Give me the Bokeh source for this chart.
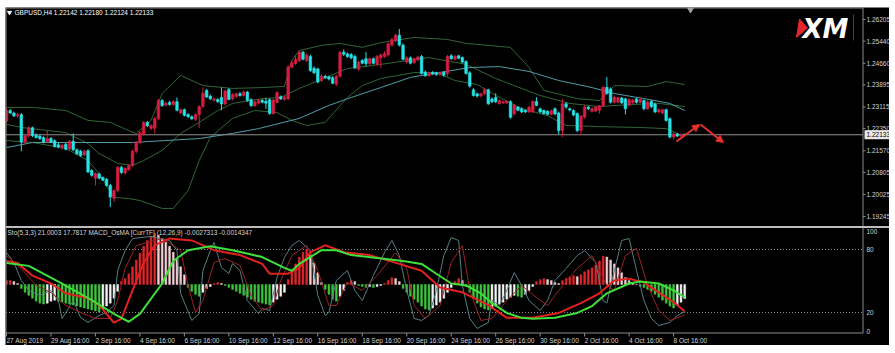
import numpy as np
from bokeh.plotting import figure
from bokeh.models import (Range1d, Label, Arrow, NormalHead, ColumnDataSource)
from bokeh.embed import file_html
from bokeh.resources import INLINE
from bokeh.core.properties import value

# ---------------- data (GBPUSD H4) ----------------
opens = [1.2262,1.2299,1.2290,1.2280,1.2284,1.2187,1.2210,1.2238,1.2212,1.2208,1.2203,1.2189,1.2200,1.2192,1.2178,1.2167,1.2180,1.2163,1.2190,1.2160,
 1.2155,1.2142,1.2157,1.2087,1.2060,1.2075,1.2062,1.2056,1.2034,1.1988,1.2016,1.2098,1.2078,1.2090,1.2105,1.2155,1.2185,1.2215,1.2257,1.2236,
 1.2236,1.2271,1.2334,1.2318,1.2328,1.2320,1.2330,1.2290,1.2302,1.2285,1.2277,1.2268,1.2285,1.2313,1.2370,1.2350,1.2335,1.2338,1.2345,1.2322,
 1.2373,1.2340,1.2348,1.2358,1.2352,1.2364,1.2337,1.2316,1.2325,1.2335,1.2332,1.2337,1.2288,1.2328,1.2348,1.2338,1.2340,1.2452,1.2465,1.2475,
 1.2505,1.2475,1.2490,1.2448,1.2446,1.2405,1.2420,1.2418,1.2415,1.2392,1.2420,1.2505,1.2499,1.2497,1.2490,1.2445,1.2476,1.2482,1.2464,1.2482,
 1.2462,1.2485,1.2490,1.2495,1.2530,1.2545,1.2565,1.2530,1.2470,1.2485,1.2468,1.2478,1.2490,1.2435,1.2422,1.2434,1.2432,1.2426,1.2434,1.2430,
 1.2492,1.2480,1.2492,1.2486,1.2472,1.2432,1.2372,1.2358,1.2350,1.2358,1.2372,1.2340,1.2345,1.2323,1.2326,1.2326,1.2330,1.2287,1.2311,1.2305,
 1.2299,1.2294,1.2294,1.2331,1.2305,1.2299,1.2296,1.2285,1.2305,1.2290,1.2228,1.2323,1.2305,1.2299,1.2288,1.2228,1.2275,1.2311,1.2296,1.2297,
 1.2300,1.2316,1.2381,1.2375,1.2328,1.2328,1.2343,1.2340,1.2318,1.2326,1.2340,1.2328,1.2334,1.2305,1.2331,1.2322,1.2294,1.2290,1.2302,1.2270,
 1.2205,1.2216,1.2209,1.22142]
highs = [1.2306,1.2304,1.2295,1.2290,1.2290,1.2216,1.2243,1.2242,1.2218,1.2214,1.2208,1.2228,1.2205,1.2197,1.2185,1.2182,1.2184,1.2195,1.2218,1.2165,
 1.2160,1.2160,1.2162,1.2092,1.2080,1.2080,1.2066,1.2060,1.2040,1.2020,1.2102,1.2104,1.2098,1.2110,1.2160,1.2190,1.2225,1.2262,1.2262,1.2250,
 1.2275,1.2340,1.2340,1.2330,1.2333,1.2335,1.2345,1.2306,1.2306,1.2289,1.2281,1.2289,1.2318,1.2381,1.2375,1.2355,1.2345,1.2342,1.2380,1.2372,
 1.2378,1.2360,1.2362,1.2365,1.2370,1.2368,1.2342,1.2334,1.2340,1.2340,1.2344,1.2342,1.2340,1.2368,1.2352,1.2350,1.2460,1.2475,1.2492,1.2512,
 1.2510,1.2500,1.2496,1.2455,1.2450,1.2428,1.2425,1.2422,1.2420,1.2425,1.2510,1.2515,1.2504,1.2502,1.2496,1.2475,1.2480,1.2505,1.2486,1.2486,
 1.2495,1.2500,1.2508,1.2540,1.2556,1.2570,1.2587,1.2536,1.2490,1.2490,1.2485,1.2492,1.2495,1.2440,1.2436,1.2438,1.2436,1.2436,1.2438,1.2495,
 1.2498,1.2495,1.2496,1.2490,1.2476,1.2438,1.2378,1.2362,1.2362,1.2378,1.2376,1.2345,1.2360,1.2338,1.2334,1.2335,1.2335,1.2322,1.2315,1.2310,
 1.2303,1.2315,1.2335,1.2346,1.2309,1.2303,1.2300,1.2302,1.2310,1.2295,1.2340,1.2328,1.2310,1.2303,1.2292,1.2282,1.2318,1.2315,1.2310,1.2314,
 1.2318,1.2384,1.2417,1.2380,1.2352,1.2348,1.2347,1.2344,1.2342,1.2340,1.2344,1.2343,1.2338,1.2335,1.2336,1.2327,1.2307,1.2305,1.2306,1.2275,
 1.2222,1.2220,1.2218,1.22180]
lows = [1.2255,1.2287,1.2276,1.2273,1.2155,1.2178,1.2204,1.2205,1.2200,1.2195,1.2183,1.2185,1.2184,1.2168,1.2165,1.2160,1.2158,1.2158,1.2155,1.2142,
 1.2135,1.2138,1.2078,1.2065,1.2034,1.2056,1.2050,1.2030,1.1958,1.1975,1.2010,1.2075,1.2072,1.2085,1.2100,1.2148,1.2180,1.2210,1.2240,1.2230,
 1.2218,1.2265,1.2312,1.2314,1.2316,1.2316,1.2296,1.2286,1.2278,1.2273,1.2265,1.2262,1.2237,1.2308,1.2343,1.2336,1.2330,1.2326,1.2300,1.2318,
 1.2335,1.2335,1.2344,1.2348,1.2348,1.2330,1.2312,1.2312,1.2320,1.2324,1.2305,1.2284,1.2284,1.2324,1.2336,1.2335,1.2336,1.2448,1.2460,1.2470,
 1.2476,1.2470,1.2436,1.2428,1.2395,1.2400,1.2410,1.2405,1.2392,1.2385,1.2415,1.2492,1.2485,1.2480,1.2445,1.2440,1.2462,1.2455,1.2460,1.2462,
 1.2458,1.2450,1.2485,1.2490,1.2525,1.2540,1.2525,1.2476,1.2465,1.2462,1.2464,1.2474,1.2426,1.2418,1.2418,1.2424,1.2422,1.2422,1.2418,1.2420,
 1.2478,1.2476,1.2480,1.2466,1.2426,1.2380,1.2348,1.2345,1.2346,1.2354,1.2318,1.2325,1.2325,1.2320,1.2322,1.2322,1.2270,1.2282,1.2296,1.2290,
 1.2290,1.2290,1.2290,1.2314,1.2290,1.2285,1.2282,1.2282,1.2282,1.2215,1.2205,1.2305,1.2296,1.2279,1.2222,1.2211,1.2270,1.2300,1.2292,1.2293,
 1.2288,1.2312,1.2355,1.2324,1.2324,1.2324,1.2322,1.2285,1.2314,1.2322,1.2324,1.2324,1.2300,1.2300,1.2308,1.2290,1.2290,1.2286,1.2260,1.2200,
 1.2198,1.2205,1.2203,1.22124]
closes = [1.2299,1.2290,1.2280,1.2284,1.2187,1.2210,1.2238,1.2210,1.2204,1.2200,1.2188,1.2200,1.2188,1.2172,1.2170,1.2177,1.2162,1.2190,1.2160,1.2146,
 1.2140,1.2155,1.2082,1.2070,1.2077,1.2060,1.2053,1.2034,1.1993,1.2016,1.2098,1.2080,1.2095,1.2105,1.2155,1.2185,1.2220,1.2257,1.2245,1.2246,
 1.2271,1.2334,1.2316,1.2325,1.2320,1.2330,1.2300,1.2302,1.2282,1.2277,1.2270,1.2285,1.2313,1.2360,1.2347,1.2340,1.2340,1.2330,1.2322,1.2368,
 1.2338,1.2355,1.2358,1.2352,1.2364,1.2334,1.2316,1.2330,1.2335,1.2328,1.2325,1.2288,1.2336,1.2362,1.2340,1.2345,1.2452,1.2468,1.2480,1.2505,
 1.2480,1.2495,1.2440,1.2432,1.2400,1.2420,1.2415,1.2410,1.2395,1.2420,1.2505,1.2498,1.2490,1.2485,1.2450,1.2470,1.2466,1.2465,1.2482,1.2466,
 1.2490,1.2495,1.2500,1.2535,1.2550,1.2565,1.2530,1.2480,1.2485,1.2466,1.2482,1.2488,1.2430,1.2422,1.2432,1.2428,1.2426,1.2432,1.2424,1.2490,
 1.2482,1.2490,1.2484,1.2470,1.2430,1.2385,1.2352,1.2350,1.2358,1.2372,1.2323,1.2330,1.2330,1.2334,1.2330,1.2332,1.2275,1.2318,1.2300,1.2294,
 1.2294,1.2311,1.2331,1.2317,1.2294,1.2288,1.2286,1.2298,1.2287,1.2228,1.2323,1.2311,1.2301,1.2283,1.2228,1.2280,1.2311,1.2305,1.2305,1.2311,
 1.2316,1.2381,1.2359,1.2328,1.2346,1.2344,1.2326,1.2305,1.2338,1.2335,1.2328,1.2339,1.2305,1.2329,1.2312,1.2294,1.2302,1.2302,1.2264,1.2205,
 1.2216,1.2209,1.2214,1.22133]

# Bollinger bands (20,2) and slow MA read as vertices: bar index, price
bb_up_bar = [0,7,16,22,28,33,35,39,42,47,53,61,69,75,77,79,85,90,96,101,110,119,124,130,136,141,145,154,160,164,173,178,183]
bb_up_val = [1.2310,1.2310,1.2299,1.2264,1.2257,1.2228,1.2218,1.2264,1.2359,1.2423,1.2387,1.2377,1.2380,1.2384,1.2476,1.2511,1.2529,1.2536,1.2522,1.2539,1.2557,1.2550,1.2536,1.2529,1.2522,1.2451,1.2370,1.2341,1.2334,1.2387,1.2384,1.2401,1.2391]
bb_mid_bar = [0,4,16,22,25,30,34,37,42,47,52,57,61,69,74,79,92,101,114,124,132,144,152,160,168,176,183]
bb_mid_val = [1.2250,1.2239,1.2221,1.2182,1.2147,1.2112,1.2105,1.2122,1.2158,1.2218,1.2257,1.2299,1.2324,1.2341,1.2345,1.2377,1.2447,1.2462,1.2486,1.2462,1.2412,1.2352,1.2324,1.2313,1.2320,1.2324,1.2313]
bb_lo_bar = [0,7,16,22,25,29,33,36,42,45,49,52,55,61,67,73,77,81,86,92,96,101,110,116,121,127,132,139,146,151,160,171,178,183]
bb_lo_val = [1.2193,1.2186,1.2165,1.2122,1.2076,1.1992,1.1988,1.1981,1.1953,1.1953,1.2016,1.2122,1.2204,1.2271,1.2299,1.2292,1.2264,1.2246,1.2257,1.2345,1.2387,1.2412,1.2433,1.2433,1.2405,1.2391,1.2352,1.2306,1.2281,1.2246,1.2242,1.2239,1.2235,1.2207]
ma_bar = [0,7,34,52,61,68,79,87,93,101,109,120,125,133,141,149,158,164,172,179,183]
ma_val = [1.2168,1.2186,1.2186,1.2200,1.2218,1.2235,1.2271,1.2317,1.2345,1.2380,1.2416,1.2440,1.2451,1.2454,1.2437,1.2405,1.2380,1.2359,1.2341,1.2324,1.2299]

# MACD OsMA histogram (one value per bar)
osma = [0.0004,0.0004,0.0003,0.0001,-0.0004,-0.0008,-0.0011,-0.0014,-0.0017,-0.0019,-0.0020,-0.0019,-0.0017,-0.0016,-0.0017,-0.0018,-0.0019,-0.0020,-0.0021,-0.0022,
 -0.0023,-0.0024,-0.0025,-0.0026,-0.0027,-0.0028,-0.0025,-0.0022,-0.0019,-0.0014,-0.0007,0.0003,0.0006,0.0011,0.0018,0.0025,0.0032,0.0039,0.0045,0.0049,
 0.0052,0.0050,0.0047,0.0043,0.0039,0.0033,0.0026,0.0018,0.0010,-0.0003,-0.0007,-0.0010,-0.0012,-0.0008,-0.0004,-0.0002,0.0001,0.0002,0.0001,-0.0001,
 -0.0003,-0.0005,-0.0007,-0.0009,-0.0011,-0.0013,-0.0015,-0.0017,-0.0018,-0.0019,-0.0020,-0.0021,-0.0018,-0.0015,-0.0012,-0.0008,0.0005,0.0013,0.0021,0.0028,
 0.0033,0.0036,0.0030,0.0022,0.0012,0.0002,-0.0005,-0.0010,-0.0015,-0.0017,-0.0012,-0.0006,0.0002,0.0004,0.0003,-0.0001,-0.0002,-0.0003,-0.0002,-0.0003,
 -0.0002,-0.0001,0.0001,0.0004,0.0007,0.0006,0.0003,-0.0004,-0.0008,-0.0012,-0.0015,-0.0018,-0.0022,-0.0025,-0.0026,-0.0024,-0.0021,-0.0018,-0.0014,-0.0008,
 -0.0003,0.0003,0.0006,0.0004,-0.0002,-0.0008,-0.0014,-0.0019,-0.0023,-0.0025,-0.0026,-0.0024,-0.0022,-0.0020,-0.0018,-0.0015,-0.0013,-0.0011,-0.0012,-0.0013,
 -0.0010,-0.0006,-0.0002,0.0003,0.0005,0.0006,0.0005,0.0004,0.0002,0.0001,0.0004,0.0006,0.0008,0.0009,0.0008,0.0010,0.0013,0.0015,0.0017,0.0020,
 0.0024,0.0029,0.0028,0.0025,0.0021,0.0017,0.0012,0.0007,0.0004,0.0002,0.0000,-0.0002,-0.0003,-0.0005,-0.0007,-0.0010,-0.0013,-0.0016,-0.0019,-0.0022,
 -0.0024,-0.0021,-0.0018,-0.0014347]
# MACD main (red) and signal (green) lines, vertices
macd_bar = [0,3,7,12,16,22,25,29,31,34,37,40,44,50,56,63,69,71,76,79,82,86,91,98,106,112,117,123,130,135,142,149,155,160,164,168,172,176,180,183]
macd_val = [0.0024,0.0022,0.0009,0.0001,-0.0009,-0.0014,-0.0021,-0.0039,-0.0035,-0.0006,0.0022,0.0040,0.0047,0.0045,0.0035,0.0030,0.0021,0.0011,0.0011,0.0017,0.0033,0.0040,0.0033,0.0030,0.0021,0.0014,-0.0003,-0.0008,-0.0021,-0.0034,-0.0034,-0.0029,-0.0019,-0.0009,0.0004,0.0006,0.0002,-0.0008,-0.0018,-0.0027313]
sig_bar = [0,6,15,23,29,33,36,42,45,49,55,61,69,75,77,79,85,89,93,100,107,112,116,120,124,128,131,135,139,142,148,154,158,162,168,171,176,180,183]
sig_val = [0.0022,0.0019,0.0001,-0.0016,-0.0030,-0.0038,-0.0030,0.0001,0.0024,0.0035,0.0039,0.0035,0.0028,0.0017,0.0014,0.0021,0.0035,0.0035,0.0030,0.0027,0.0024,0.0021,0.0011,0.0001,-0.0001,-0.0009,-0.0019,-0.0029,-0.0034,-0.0035,-0.0034,-0.0029,-0.0022,-0.0009,0.0001,0.0003,0.0001,-0.0006,-0.0013]
# Stochastic (5,3,3) main and signal, vertices
sto_k_bar = [0,2,4,6,9,12,14,15,18,20,22,25,27,29,30,32,34,39,44,46,47,50,52,53,55,56,58,60,61,63,65,68,69,71,73,75,77,79,82,84,86,87,89,92,94,96,99,102,104,106,108,110,112,114,116,118,120,122,123,125,127,130,131,133,135,137,139,141,144,146,148,151,154,156,159,161,162,164,166,168,170,172,174,176,179,181,183]
sto_k_val = [77.1,67.6,50.5,41.0,36.2,41.0,31.4,14.3,31.4,15.2,10.5,17.1,20.0,26.7,60.0,79.0,90.5,92.4,88.6,79.0,38.1,12.4,19.0,60.0,79.0,86.7,62.9,57.1,66.7,60.0,31.4,19.0,23.8,21.9,53.3,72.4,83.8,88.6,79.0,36.2,17.1,20.0,50.5,60.0,41.0,31.4,55.2,77.1,88.6,74.3,41.0,14.3,12.4,17.1,41.0,74.3,91.4,88.6,45.7,14.3,4.8,10.5,31.4,26.7,41.0,58.1,45.7,31.4,21.9,31.4,50.5,61.9,74.3,79.0,67.6,31.4,29.0,60.0,88.6,90.5,60.0,31.4,14.3,7.6,10.5,17.1,21.0003]
sto_d_bar = [0,4,8,12,16,20,24,28,30,32,35,42,47,49,51,53,56,59,63,66,69,72,74,77,81,84,87,89,92,96,100,105,108,110,113,117,120,123,125,128,131,135,139,143,146,149,154,158,162,164,167,170,173,176,179,183]
sto_d_val = [74.3,61.9,45.7,39.0,26.7,20.0,14.3,14.3,31.4,61.9,83.8,90.5,79.0,45.7,20.0,31.4,67.6,71.4,64.8,36.2,21.9,26.7,50.5,74.3,83.8,60.0,26.7,26.7,48.6,41.0,55.2,77.1,61.9,26.7,14.3,26.7,67.6,83.8,41.0,12.4,14.3,31.4,45.7,34.3,26.7,41.0,61.9,74.3,45.7,41.0,74.3,81.0,45.7,21.9,12.4,17.7817]

# axis labels
price_ticks = [1.26205,1.25440,1.24660,1.23895,1.23115,1.22350,1.21570,1.20805,1.20025,1.19245]
last_price = 1.22133
time_tick_bars = [0,12,24,36,48,60,72,84,96,108,120,132,144,156,168,180]
time_tick_labels = ["27 Aug 2019","29 Aug 16:00","2 Sep 16:00","4 Sep 16:00","6 Sep 16:00","10 Sep 16:00",
                    "12 Sep 16:00","16 Sep 16:00","18 Sep 16:00","20 Sep 16:00","24 Sep 16:00","26 Sep 16:00",
                    "30 Sep 16:00","2 Oct 16:00","4 Oct 16:00","8 Oct 16:00"]
sto_levels = [100, 80, 20, 0]
title_text = "GBPUSD,H4  1.22142 1.22180 1.22124 1.22133"
sub_text = "Sto(5,3,3) 21.0003 17.7817  MACD_OsMA [CurrTF] (12,26,9) -0.0027313 -0.0014347"

# ---------------- layout constants ----------------
FRAME_W, FRAME_H = 884, 338          # dark area: page x 5..889, y 7..345
BAR_PX = 3.706                        # px per bar (bar 0 at page x 6)
PRICE_PER_PX = 0.0003533
x_start = -1.0 / BAR_PX
x_end = x_start + FRAME_W / BAR_PX
price_top = 1.26629                   # price at page y 7
price_bot = price_top - FRAME_H * PRICE_PER_PX
sto_per_px = 100.0 / 105.0            # 0..100 at page y 333..228
sto_bot = -12 * sto_per_px
sto_top = sto_bot + FRAME_H * sto_per_px
macd_per_px = 0.000102                # zero at page y 284
macd_bot = -61 * macd_per_px
macd_top = macd_bot + FRAME_H * macd_per_px

def px2x(px):   # page pixel -> bar units (layout / decorations only)
    return x_start + (px - 5) / BAR_PX

def py2p(py):   # page pixel -> price units (layout / decorations only)
    return price_top - (py - 7) * PRICE_PER_PX

FONT = "Liberation Sans"
TXT = "#d4d4d4"
GRID = "#8c8c8c"
BULL, BEAR = "#d61d42", "#27e2e4"
FS = "6.5px"

p = figure(frame_width=FRAME_W, frame_height=FRAME_H, output_backend="svg", toolbar_location=None,
           x_range=Range1d(x_start, x_end), y_range=Range1d(price_bot, price_top),
           x_axis_location=None, y_axis_location=None,
           background_fill_color="black", border_fill_color="black",
           min_border_left=0, min_border_top=0, min_border_right=0, min_border_bottom=0)
p.margin = (7, 0, 0, 5)
p.extra_y_ranges = {"sto": Range1d(sto_bot, sto_top), "macd": Range1d(macd_bot, macd_top)}
p.grid.visible = False
p.outline_line_color = None

XL, XR, XE = px2x(5.5), px2x(862.5), px2x(889)       # chart box edges, right edge of scale column

# ---------------- main window ----------------
idx = np.arange(len(closes))
o = np.array(opens); c = np.array(closes)
ccol = [BULL if cc >= oo else BEAR for oo, cc in zip(o, c)]
src = ColumnDataSource(dict(x=idx, o=o, h=highs, l=lows, c=c, top=np.maximum(o, c), bot=np.minimum(o, c), col=ccol))

p.line(bb_up_bar, bb_up_val, line_color="#326634", line_width=1)
p.line(bb_mid_bar, bb_mid_val, line_color="#326634", line_width=1)
p.line(bb_lo_bar, bb_lo_val, line_color="#326634", line_width=1)
p.line(ma_bar, ma_val, line_color="#4f9ca8", line_width=1)

# current price line
p.segment([XL], [last_price], [XR], [last_price], line_color="#8f8f8f", line_width=1)

p.segment(x0="x", y0="l", x1="x", y1="h", source=src, line_color="col", line_width=1)
p.vbar(x="x", top="top", bottom="bot", width=0.7, source=src, fill_color="col", line_color="col", line_width=0.6)

# ---------------- sub window ----------------
for lvl in (80, 20):
    p.segment([XL], [lvl], [XR], [lvl], y_range_name="sto", line_color="#8a8a8a", line_width=1, line_dash="1 2")

hcol = []
for k, v in enumerate(osma):
    prev = osma[k - 1] if k > 0 else v
    if v >= 0:
        hcol.append("#e0262c" if v >= prev else "#f2cfd2")
    else:
        hcol.append("#3fc63f" if v < prev else "#f4f4f4")
hsrc = ColumnDataSource(dict(x=idx, top=osma, col=hcol))
p.vbar(x="x", top="top", bottom=0, width=0.5, source=hsrc, y_range_name="macd",
       fill_color="col", line_color="col", line_width=0.5)

p.line(sto_k_bar, sto_k_val, y_range_name="sto", line_color="#557f82", line_width=1)
p.line(sto_d_bar, sto_d_val, y_range_name="sto", line_color="#9a2224", line_width=1)
p.line(macd_bar, macd_val, y_range_name="macd", line_color="#e3211e", line_width=2)
p.line(sig_bar, sig_val, y_range_name="macd", line_color="#3fe03a", line_width=2)

# ---------------- frame lines, separators ----------------
p.line([XL, XL, XR, XR, XL], [py2p(7.5), py2p(332.5), py2p(332.5), py2p(7.5), py2p(7.5)],
       line_color=GRID, line_width=1)
p.segment([XL], [py2p(226.5)], [XE], [py2p(226.5)], line_color="#bdbdbd", line_width=2)

# price axis (right)
p.segment(x0=[XR] * len(price_ticks), y0=price_ticks, x1=[px2x(865)] * len(price_ticks), y1=price_ticks,
          line_color=GRID, line_width=1)
p.text(x=[px2x(866)] * len(price_ticks), y=price_ticks, text=[f"{v:.5f}" for v in price_ticks],
       text_color=TXT, text_font=value(FONT), text_font_size=FS, text_baseline="middle", text_align="left")
# last price tag
p.quad(left=[px2x(864)], right=[XE], top=[last_price + 4.5 * PRICE_PER_PX],
       bottom=[last_price - 4.5 * PRICE_PER_PX], fill_color="#e8e8e8", line_color=None)
p.text(x=[px2x(866)], y=[last_price], text=[f"{last_price:.5f}"], text_color="black",
       text_font=value(FONT), text_font_size=FS, text_baseline="middle", text_align="left")
# stochastic levels
p.text(x=[px2x(866)] * len(sto_levels), y=sto_levels, y_range_name="sto", text=[str(v) for v in sto_levels],
       text_color=TXT, text_font=value(FONT), text_font_size=FS, text_align="left",
       text_baseline="middle", y_offset=[3, 0, 0, -2])

# time axis (bottom)
p.segment(x0=time_tick_bars, y0=[py2p(332.5)] * len(time_tick_bars), x1=time_tick_bars,
          y1=[py2p(336)] * len(time_tick_bars), line_color=GRID, line_width=1)
p.text(x=time_tick_bars, y=[py2p(339.5)] * len(time_tick_bars), text=time_tick_labels,
       text_color=TXT, text_font=value(FONT), text_font_size=FS, text_baseline="middle", text_align="left")

# ---------------- texts and decorations ----------------
p.add_layout(Label(x=px2x(14), y=py2p(12), text=title_text, text_baseline="middle",
                   text_color="white", text_font=FONT, text_font_size=FS))
p.scatter([px2x(9)], [py2p(12)], marker="inverted_triangle", size=4, color="white")
p.add_layout(Label(x=px2x(7), y=py2p(231.5), text=sub_text,
                   text_baseline="middle", text_color=TXT, text_font=FONT, text_font_size=FS))

# XM logo
p.patch([px2x(799), px2x(807), px2x(796)], [py2p(18.5), py2p(27.5), py2p(37)], color="#e3262b")
p.text(x=[px2x(802)], y=[py2p(28)], text=["XM"], text_color="white", text_font=value("DejaVu Sans"),
       text_font_style="bold italic", text_font_size="26px", text_baseline="middle", text_align="left")
p.segment([px2x(853)], [py2p(14)], [px2x(853)], [py2p(40)], line_color="#9b1c1c", line_width=1)

# chart shift marker
p.scatter([px2x(690)], [py2p(9)], marker="inverted_triangle", size=6, color="#a0a0a0")

# red arrows
for (xa0, ya0, xa1, ya1) in [(676, 141, 699, 124), (700, 124, 723, 142)]:
    p.add_layout(Arrow(x_start=px2x(xa0), y_start=py2p(ya0), x_end=px2x(xa1), y_end=py2p(ya1),
                       line_color="#e8302a", line_width=2,
                       end=NormalHead(size=7, fill_color="#e8302a", line_color="#e8302a")))

open("out.html", "w").write(file_html(p, INLINE))
